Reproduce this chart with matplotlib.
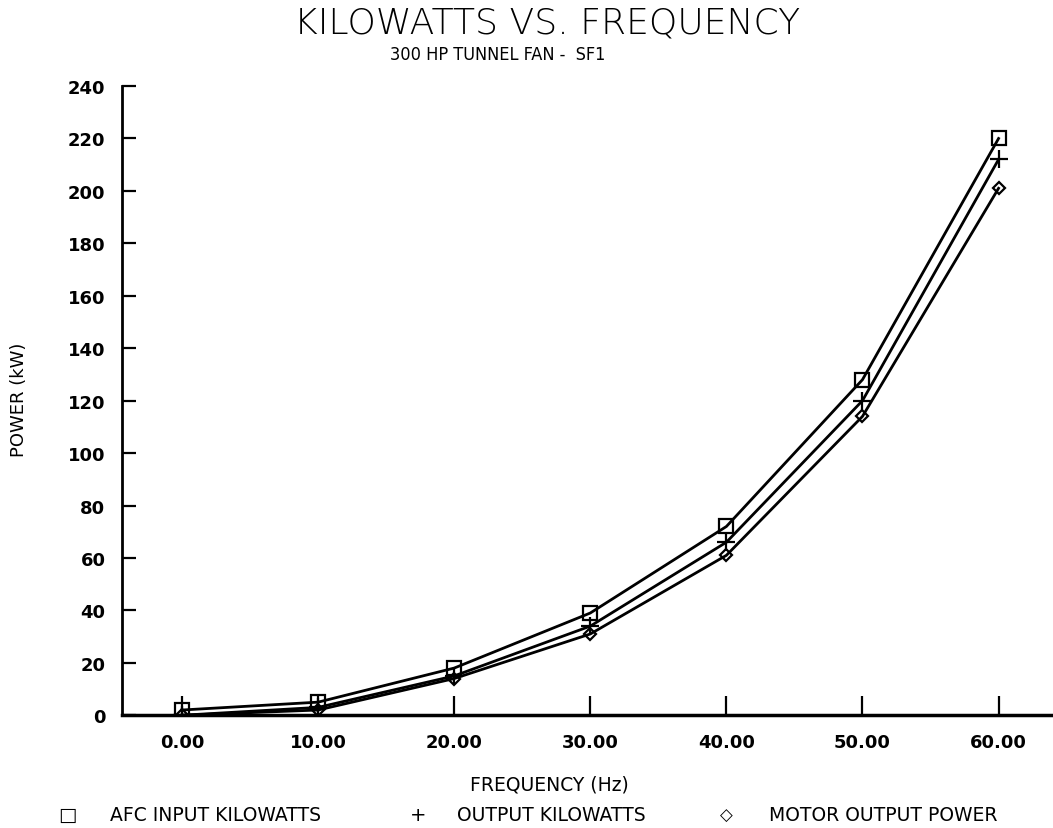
import matplotlib.pyplot as plt

# frequency steps and measured power (kW)
freq = [0, 10, 20, 30, 40, 50, 60]
afc_input_kw = [2, 5, 18, 39, 72, 128, 220]
output_kw = [0, 3, 15, 34, 66, 120, 212]
motor_output_kw = [0, 2, 14, 31, 61, 114, 201]

xtick_vals = [0, 10, 20, 30, 40, 50, 60]
xtick_labels = ['0.00', '10.00', '20.00', '30.00', '40.00', '50.00', '60.00']
ytick_vals = list(range(0, 241, 20))

fig = plt.figure(figsize=(10.53, 8.29), dpi=100)
ax = fig.add_axes([0.116, 0.136, 0.884, 0.759])

ax.plot(freq, afc_input_kw, color='black', lw=2, marker='s', ms=10,
        mfc='none', mew=1.6)
ax.plot(freq, output_kw, color='black', lw=2, marker='+', ms=13, mew=1.6)
ax.plot(freq, motor_output_kw, color='black', lw=2, marker='D', ms=6,
        mfc='none', mew=1.6)

ax.set_xlim(-4.4, 64)
ax.set_ylim(0, 240)
ax.spines['top'].set_visible(False)
ax.spines['right'].set_visible(False)
ax.spines['left'].set_linewidth(2)
ax.spines['bottom'].set_linewidth(2.5)

ax.set_xticks(xtick_vals)
ax.set_xticklabels(xtick_labels)
ax.set_yticks(ytick_vals)
ax.tick_params(axis='x', direction='in', length=14, width=1.6, pad=13,
               labelsize=13)
ax.tick_params(axis='y', direction='in', length=10, width=1.6, pad=12,
               labelsize=13)
for lbl in ax.get_xticklabels() + ax.get_yticklabels():
    lbl.set_fontweight('bold')

fig.text(0.52, 0.972, 'KILOWATTS VS. FREQUENCY', ha='center', va='center',
         fontsize=26, fontweight='light', family='DejaVu Sans')
fig.text(0.473, 0.934, '300 HP TUNNEL FAN -  SF1', ha='center', va='center',
         fontsize=13, family='DejaVu Sans', stretch='condensed')

fig.text(0.522, 0.053, 'FREQUENCY (Hz)', ha='center', va='center', fontsize=13.5)
fig.text(0.018, 0.518, 'POWER (kW)', ha='center', va='center', fontsize=13,
         rotation=90)

# legend row under the axis title
leg_y = 0.016
fig.text(0.064, leg_y, '\u25a1', ha='center', va='center', fontsize=14)
fig.text(0.104, leg_y, 'AFC INPUT KILOWATTS', ha='left', va='center', fontsize=13.5)
fig.text(0.397, leg_y, '+', ha='center', va='center', fontsize=14)
fig.text(0.434, leg_y, 'OUTPUT KILOWATTS', ha='left', va='center', fontsize=13.5)
fig.text(0.690, leg_y, '\u25c7', ha='center', va='center', fontsize=12)
fig.text(0.730, leg_y, 'MOTOR OUTPUT POWER', ha='left', va='center', fontsize=13.5)

fig.savefig('out.png', dpi=100)
